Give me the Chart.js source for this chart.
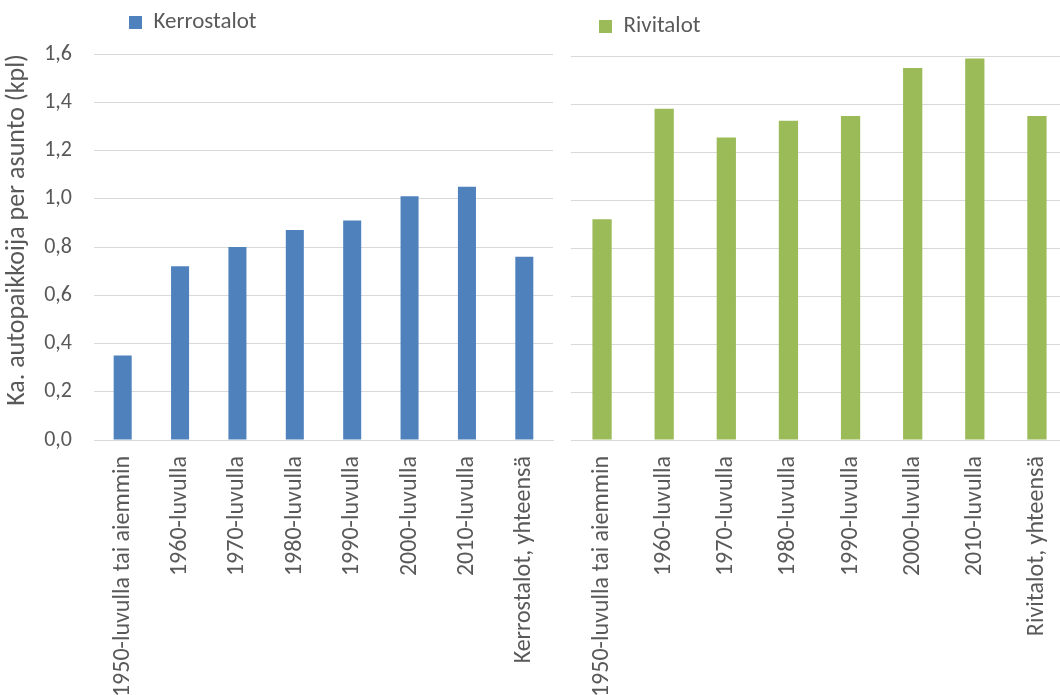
<!DOCTYPE html>
<html lang="fi">
<head>
<meta charset="utf-8">
<title>Autopaikat per asunto</title>
<script src="https://cdn.jsdelivr.net/npm/chart.js@4.4.1/dist/chart.umd.min.js"></script>
<style>
  html, body { margin: 0; padding: 0; background: #fff; overflow: hidden; }
  #wrap { position: relative; width: 1060px; height: 695px; overflow: hidden; }
  #kerrosChart { position: absolute; left: 0; top: 0; }
  #riviChart { position: absolute; left: 555px; top: 0; }
</style>
</head>
<body>
<div id="wrap">
  <canvas id="kerrosChart" width="575" height="695"></canvas>
  <canvas id="riviChart" width="530" height="695"></canvas>
</div>
<script>
const kerrosLabels = [
  "1950-luvulla tai aiemmin", "1960-luvulla", "1970-luvulla", "1980-luvulla",
  "1990-luvulla", "2000-luvulla", "2010-luvulla", "Kerrostalot, yhteensä",
];
const riviLabels = [
  "1950-luvulla tai aiemmin", "1960-luvulla", "1970-luvulla", "1980-luvulla",
  "1990-luvulla", "2000-luvulla", "2010-luvulla", "Rivitalot, yhteensä",
];
const kerrosValues = [0.35, 0.72, 0.80, 0.87, 0.91, 1.01, 1.05, 0.76];
const riviValues = [0.92, 1.38, 1.26, 1.33, 1.35, 1.55, 1.59, 1.35];
const yTickLabels = ["0,0", "0,2", "0,4", "0,6", "0,8", "1,0", "1,2", "1,4", "1,6"];
const yTitle = "Ka. autopaikkoija per asunto (kpl)";

const FONT = "Carlito, Lato, 'Open Sans', sans-serif";
const TEXT = "#595959";
const GRID = "#d9d9d9";

Chart.defaults.font.family = FONT;
Chart.defaults.color = TEXT;

// moves the legend box without touching the chart area
const legendShift = {
  id: "legendShift",
  afterLayout(chart, args, opts) {
    const lg = chart.legend;
    if (!lg) return;
    lg.left += opts.dx || 0;
    lg.right += opts.dx || 0;
    lg.top += opts.dy || 0;
    lg.bottom += opts.dy || 0;
  },
};

function makeChart(id, labels, values, name, color, cfg) {
  const ctx = document.getElementById(id).getContext("2d");
  return new Chart(ctx, {
    type: "bar",
    data: {
      labels: labels,
      datasets: [{
        label: name,
        data: values,
        backgroundColor: color,
        borderWidth: 0,
        categoryPercentage: 1,
        barPercentage: cfg.barPct,
      }],
    },
    plugins: [legendShift],
    options: {
      responsive: false,
      animation: false,
      layout: { padding: cfg.padding },
      plugins: {
        tooltip: { enabled: false },
        legend: {
          position: "top",
          align: "start",
          labels: {
            boxWidth: 13,
            boxHeight: 13,
            padding: 0,
            color: TEXT,
            font: { size: 23 },
          },
        },
        legendShift: cfg.shift,
      },
      scales: {
        x: {
          grid: { display: false },
          border: { display: true, color: GRID, width: 1 },
          ticks: {
            autoSkip: false,
            minRotation: 90,
            maxRotation: 90,
            padding: 8,
            color: TEXT,
            font: { size: 24 },
          },
          afterFit: (scale) => { scale.height = 255; },
        },
        y: {
          min: 0,
          max: 1.6,
          grid: { color: GRID, lineWidth: 1, drawTicks: false },
          border: { display: false },
          ticks: {
            display: cfg.showY,
            stepSize: 0.2,
            padding: 22,
            color: TEXT,
            font: { size: 22 },
            callback: (value, index) => yTickLabels[index],
          },
          title: {
            display: cfg.showY,
            text: yTitle,
            align: "end",
            color: TEXT,
            font: { size: 26 },
            padding: { top: 2, bottom: 0 },
          },
          afterFit: (scale) => { scale.width = cfg.yWidth; },
        },
      },
    },
  });
}

const kerrosChart = makeChart("kerrosChart", kerrosLabels, kerrosValues, "Kerrostalot", "#4f81bd", {
  barPct: 0.314,
  padding: { top: 21, right: 22, left: 0, bottom: 0 },
  shift: { dx: 129, dy: -10 },
  showY: true,
  yWidth: 94,
});

const riviChart = makeChart("riviChart", riviLabels, riviValues, "Rivitalot", "#9bbb59", {
  barPct: 0.31,
  padding: { top: 23, right: 17, left: 0, bottom: 0 },
  shift: { dx: 44, dy: -8 },
  showY: false,
  yWidth: 16,
});
</script>
</body>
</html>
